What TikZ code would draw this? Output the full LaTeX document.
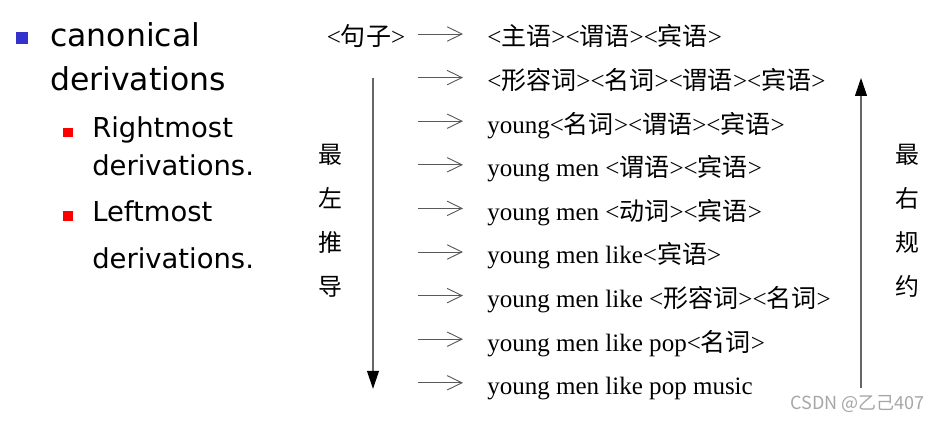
\documentclass[tikz,border=0pt]{standalone}
\usepackage{fontspec}
\setmainfont{Liberation Serif}
\newfontfamily\cjk{Noto Sans CJK SC}
\newfontfamily\slidefont{DejaVu Sans}
\usetikzlibrary{arrows.meta,positioning}
\definecolor{bulletblue}{HTML}{3333CC}
\definecolor{bulletred}{HTML}{FF0000}
\newcommand{\zh}[1]{{\cjk #1}}
\tikzset{
  derivpicture/.style={node distance=10.9mm},
  slidetext/.style={inner sep=0pt, anchor=base west, font=\slidefont\fontsize{22.4}{26}\selectfont},
  slidesub/.style={slidetext, font=\slidefont\fontsize{19.5}{23}\selectfont},
  bulletbox/.style={fill=bulletblue, minimum size=3mm, inner sep=0pt},
  subbullet/.style={fill=bulletred, minimum size=2.3mm, inner sep=0pt},
  rowtext/.style={inner sep=0pt, anchor=west, text height=18pt, text depth=1pt, font=\fontsize{17.8}{20}\selectfont},
  sidetext/.style={inner sep=0pt, align=center, font=\cjk\fontsize{17}{31.3}\selectfont},
  rowarrow/.style={-{Straight Barb[length=3.7mm,width=3.6mm]}, draw=black!65, line width=0.65pt, shorten >=6mm},
  flowarrow/.style={-{Triangle[length=4.5mm,width=3mm,color=black]}, draw=black!60, line width=0.8pt},
  marktext/.style={inner sep=0pt, anchor=east, text=black!35, font=\cjk\fontsize{12.8}{14}\selectfont}
}
\begin{document}
\begin{tikzpicture}[derivpicture]
\useasboundingbox (0,0) rectangle (23.2,10.5);
% left bullets
\node[bulletbox] (b0) at (0.55,9.55) {};
\node[slidetext] (c1) at (1.25,9.325) {canonical};
\node[slidetext, below=11mm of c1.base west, anchor=base west] (c2) {derivations};
\node[subbullet] (b1) at (1.7,7.19) {};
\node[slidesub] (d1) at (2.3,7.05) {Rightmost};
\node[slidesub, below=9.5mm of d1.base west, anchor=base west] (d2) {derivations.};
\node[subbullet] (b2) at (1.7,5.1) {};
\node[slidesub] (d3) at (2.3,4.95) {Leftmost};
\node[slidesub, below=11.5mm of d3.base west, anchor=base west] (d4) {derivations.};
% derivation rows
\node[rowtext, anchor=center] (s) at (9.15,9.65) {<\zh{句子}>};
\node[rowtext] (r1) at (12.175,9.65) {<\zh{主语}><\zh{谓语}><\zh{宾语}>};
\node[rowtext, below=of r1.west, anchor=west] (r2) {<\zh{形容词}><\zh{名词}><\zh{谓语}><\zh{宾语}>};
\node[rowtext, below=of r2.west, anchor=west] (r3) {young<\zh{名词}><\zh{谓语}><\zh{宾语}>};
\node[rowtext, below=of r3.west, anchor=west] (r4) {young men <\zh{谓语}><\zh{宾语}>};
\node[rowtext, below=of r4.west, anchor=west] (r5) {young men <\zh{动词}><\zh{宾语}>};
\node[rowtext, below=of r5.west, anchor=west] (r6) {young men like<\zh{宾语}>};
\node[rowtext, below=of r6.west, anchor=west] (r7) {young men like <\zh{形容词}><\zh{名词}>};
\node[rowtext, below=of r7.west, anchor=west] (r8) {young men like pop<\zh{名词}>};
\node[rowtext, below=of r8.west, anchor=west] (r9) {young men like pop music};
\coordinate[left=17.25mm of r1.west] (a1);
\coordinate[left=17.25mm of r2.west] (a2);
\coordinate[left=17.25mm of r3.west] (a3);
\coordinate[left=17.25mm of r4.west] (a4);
\coordinate[left=17.25mm of r5.west] (a5);
\coordinate[left=17.25mm of r6.west] (a6);
\coordinate[left=17.25mm of r7.west] (a7);
\coordinate[left=17.25mm of r8.west] (a8);
\coordinate[left=17.25mm of r9.west] (a9);
\draw[rowarrow] (a1) -- (r1.west);
\draw[rowarrow] (a2) -- (r2.west);
\draw[rowarrow] (a3) -- (r3.west);
\draw[rowarrow] (a4) -- (r4.west);
\draw[rowarrow] (a5) -- (r5.west);
\draw[rowarrow] (a6) -- (r6.west);
\draw[rowarrow] (a7) -- (r7.west);
\draw[rowarrow] (a8) -- (r8.west);
\draw[rowarrow] (a9) -- (r9.west);
% side arrows and labels
\coordinate (ltop) at (9.325,8.55);
\coordinate (lbot) at (9.325,0.78);
\coordinate (rbot) at (21.525,0.8);
\coordinate (rtop) at (21.525,8.55);
\draw[flowarrow] (ltop) -- (lbot);
\draw[flowarrow] (rbot) -- (rtop);
\node[sidetext] (lv) at (8.25,4.975) {最\\左\\推\\导};
\node[sidetext] (rv) at (22.675,4.975) {最\\右\\规\\约};
\node[marktext] (wm) at (23.13,0.4) {CSDN @乙己407};
\end{tikzpicture}
\end{document}
